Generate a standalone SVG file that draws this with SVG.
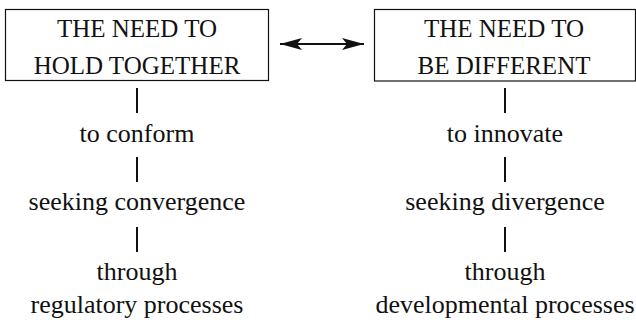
<svg xmlns="http://www.w3.org/2000/svg" width="636" height="320" viewBox="0 0 636 320">
<style>
text{font-family:"Liberation Serif","DejaVu Serif","Liberation Sans",sans-serif;fill:#111;text-anchor:middle}
.t{font-size:25px}
.l{font-size:26px}
.box{fill:#fff;stroke:#111;stroke-width:1.2}
.c{stroke:#111;stroke-width:2;fill:none}
</style>
<defs>
<marker id="ah" markerWidth="22" markerHeight="12" refX="22" refY="6" orient="auto-start-reverse" markerUnits="userSpaceOnUse">
<path d="M0,0 L22,6 L0,12 L5,6 Z" fill="#111"/>
</marker>
</defs>
<g id="connectors">
<line class="c" x1="280" y1="44" x2="364" y2="44" marker-start="url(#ah)" marker-end="url(#ah)"/>
<line class="c" x1="137" y1="88" x2="137" y2="113"/>
<line class="c" x1="137" y1="157" x2="137" y2="182"/>
<line class="c" x1="137" y1="227" x2="137" y2="252"/>
<line class="c" x1="505" y1="88" x2="505" y2="113"/>
<line class="c" x1="505" y1="157" x2="505" y2="182"/>
<line class="c" x1="505" y1="227" x2="505" y2="252"/>
</g>
<g id="node-hold">
<rect class="box" x="5.5" y="9.5" width="263" height="71"/>
<text class="t" x="137" y="37">THE NEED TO</text>
<text class="t" x="137" y="74">HOLD TOGETHER</text>
</g>
<g id="node-different">
<rect class="box" x="374.5" y="9.5" width="261" height="71.5"/>
<text class="t" x="504" y="37">THE NEED TO</text>
<text class="t" x="504" y="74">BE DIFFERENT</text>
</g>
<g id="node-conform"><text class="l" x="137" y="142">to conform</text></g>
<g id="node-convergence"><text class="l" x="137" y="210">seeking convergence</text></g>
<g id="node-regulatory">
<text class="l" x="137" y="280">through</text>
<text class="l" x="137" y="313">regulatory processes</text>
</g>
<g id="node-innovate"><text class="l" x="505" y="142">to innovate</text></g>
<g id="node-divergence"><text class="l" x="505" y="210">seeking divergence</text></g>
<g id="node-developmental">
<text class="l" x="505" y="280">through</text>
<text class="l" x="505" y="313">developmental processes</text>
</g>
</svg>
